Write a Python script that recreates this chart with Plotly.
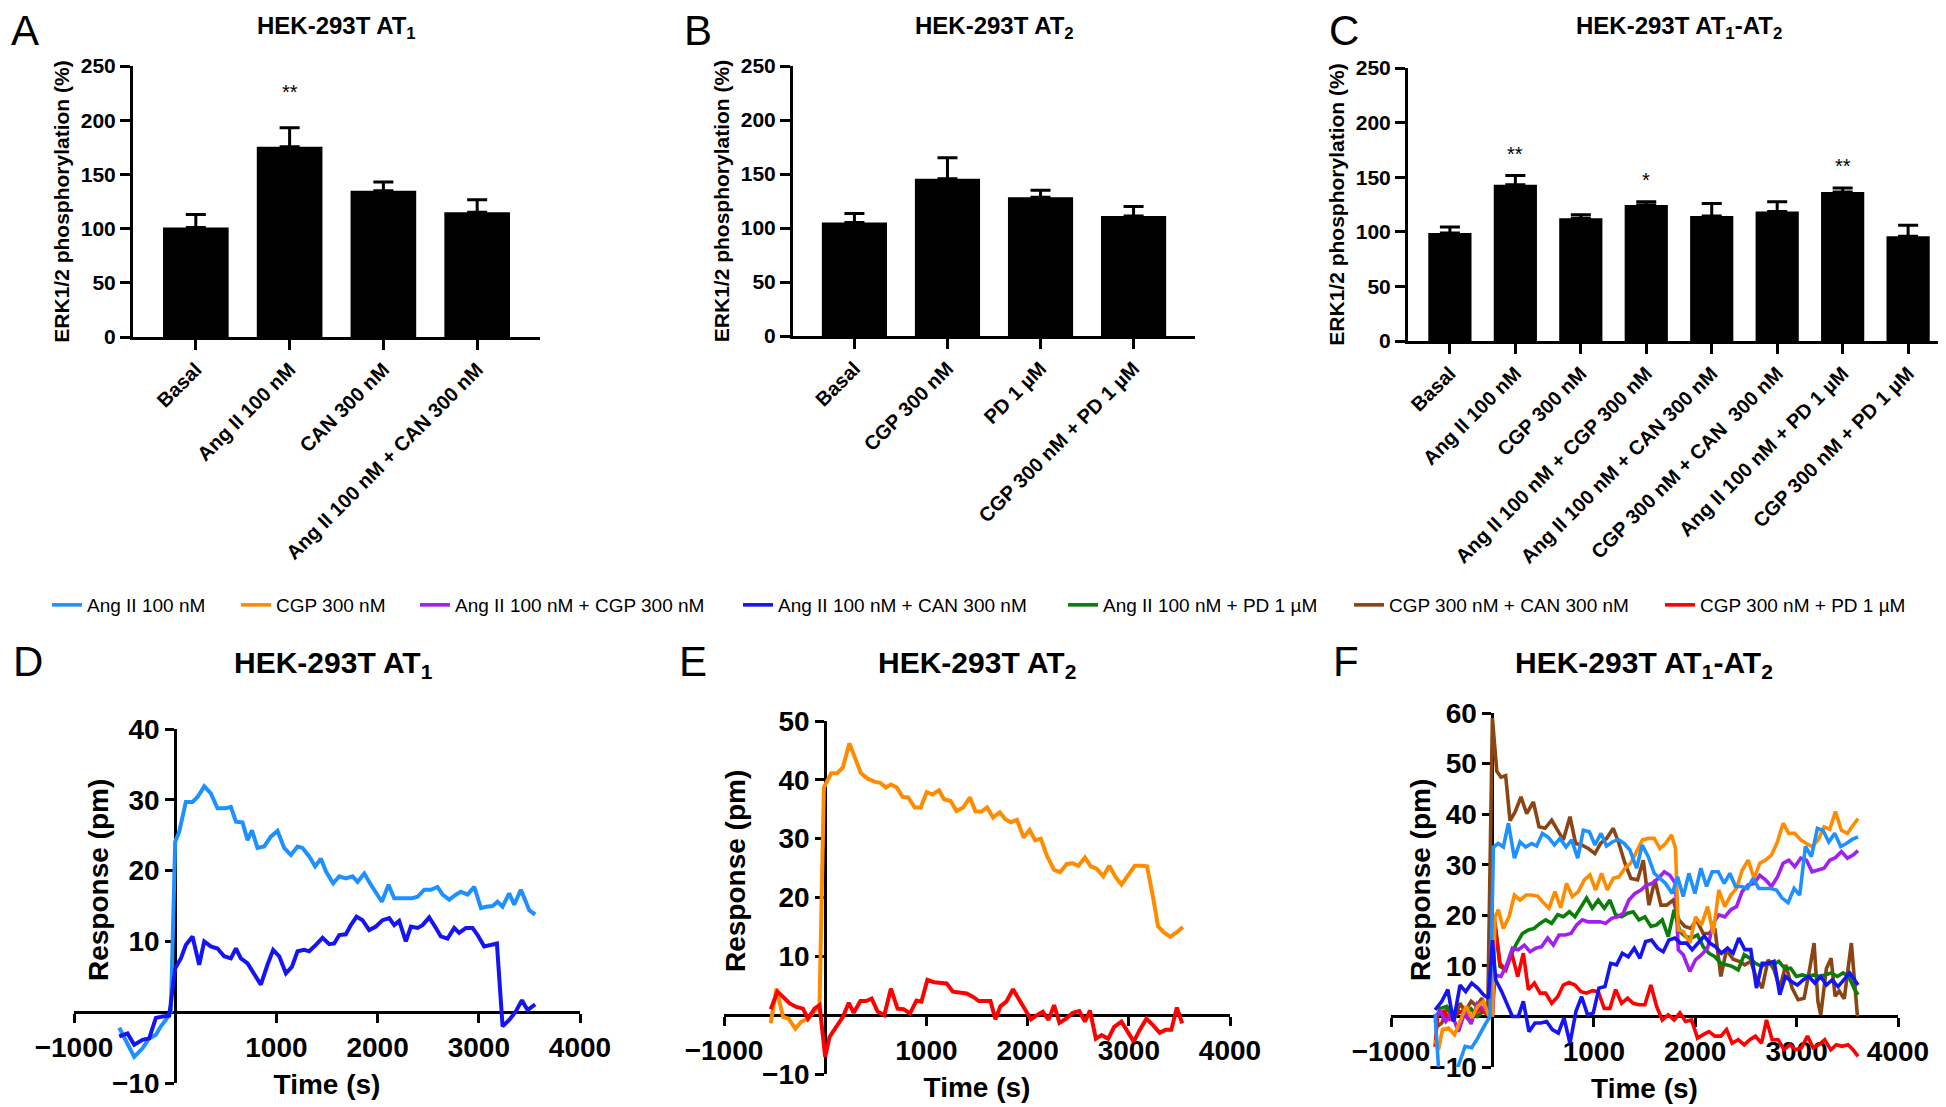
import plotly.graph_objects as go

FONT = "Liberation Sans, Arial, Helvetica, sans-serif"
W, H = 1946, 1107

# ---------------- data: ERK1/2 bar panels ----------------
cats_A = ["Basal", "Ang II 100 nM", "CAN 300 nM", "Ang II 100 nM + CAN 300 nM"]
mean_A = [101, 175.5, 135, 115]
sem_A = [12, 17.5, 8, 11.5]
stars_A = ["", "**", "", ""]

cats_B = ["Basal", "CGP 300 nM", "PD 1 µM", "CGP 300 nM + PD 1 µM"]
mean_B = [105, 145.5, 128.5, 111]
sem_B = [8.5, 19.5, 6.5, 9]
stars_B = ["", "", "", ""]

cats_C = ["Basal", "Ang II 100 nM", "CGP 300 nM", "Ang II 100 nM + CGP 300 nM",
          "Ang II 100 nM + CAN 300 nM", "CGP 300 nM + CAN  300 nM",
          "Ang II 100 nM + PD 1 µM", "CGP 300 nM + PD 1 µM"]
mean_C = [99, 143, 112.5, 124.5, 114.5, 118.5, 136.5, 96]
sem_C = [5.5, 8.5, 3, 3, 11.5, 9, 3.5, 10]
stars_C = ["", "**", "", "*", "", "", "**", ""]

# ---------------- data: DMR time courses (time s, response pm) ----------------
D_angII = [(-553,-2.2),(-405,-6.3),(-323,-5.1),(-257,-3.7),(-191,-3.2),(-142,-2.0),(-92,-1.1),(-43,0.1),(0,24.1),(40,25.5),(105,29.7),(171,29.7),(221,30.4),(287,31.9),(352,30.9),(418,28.8),(500,28.8),(550,29.0),(600,26.9),(665,26.8),(715,24.3),(758,25.7),(813,23.2),(879,23.4),(945,24.8),(1011,25.6),(1077,23.2),(1143,22.2),(1209,23.4),(1258,23.2),(1324,22.0),(1383,20.6),(1439,21.7),(1489,19.9),(1561,18.2),(1621,19.2),(1686,18.9),(1752,19.2),(1802,18.4),(1868,19.6),(1934,18.0),(1983,16.8),(2042,15.6),(2108,18.0),(2164,16.1),(2246,16.1),(2345,16.1),(2395,16.3),(2461,17.3),(2526,17.3),(2592,17.7),(2642,16.6),(2708,15.9),(2773,16.6),(2823,17.0),(2889,16.6),(2955,17.7),(3021,14.7),(3070,14.9),(3136,15.0),(3185,15.6),(3235,14.9),(3300,16.8),(3350,15.2),(3416,17.3),(3465,15.6),(3498,14.4),(3557,13.8)]
D_angII_CAN = [(-553,-3.4),(-471,-3.0),(-405,-4.6),(-323,-3.9),(-257,-3.7),(-191,-0.8),(-125,-0.6),(-59,-0.5),(0,6.2),(56,7.6),(105,9.5),(171,10.7),(237,6.7),(287,10.0),(352,9.3),(418,9.0),(484,7.9),(550,7.6),(600,9.0),(649,7.6),(715,6.9),(781,5.3),(846,3.9),(912,6.7),(968,8.8),(1028,7.9),(1094,5.5),(1153,6.4),(1209,8.6),(1275,8.8),(1324,8.6),(1390,9.5),(1456,10.5),(1522,9.6),(1571,9.7),(1621,10.9),(1686,11.0),(1736,12.3),(1792,13.5),(1851,13.0),(1917,11.6),(1983,12.1),(2049,13.0),(2115,13.3),(2164,12.3),(2213,12.9),(2279,10.0),(2329,12.1),(2395,11.9),(2444,12.3),(2510,13.4),(2576,11.9),(2625,10.7),(2691,10.4),(2757,11.9),(2806,11.2),(2872,11.9),(2938,11.9),(2988,10.9),(3053,9.3),(3119,9.5),(3179,9.7),(3235,-2.0),(3300,-1.1),(3366,0.1),(3426,1.7),(3482,0.3),(3557,1.1)]

E_CGP = [(-538,-1.4),(-482,4.5),(-416,-0.3),(-361,-0.6),(-295,-2.3),(-236,-1.1),(-170,-0.6),(-105,0.8),(-56,1.7),(-13,38.7),(59,41.1),(118,41.1),(174,42.1),(239,46.2),(295,43.8),(354,41.1),(420,40.2),(485,39.7),(544,39.5),(600,38.7),(649,39.2),(708,38.7),(764,37.1),(820,37.0),(885,35.3),(944,35.3),(1003,37.9),(1059,37.5),(1125,38.2),(1174,36.7),(1239,36.4),(1298,34.7),(1364,35.3),(1430,37.0),(1485,34.6),(1544,34.6),(1600,35.3),(1659,33.6),(1725,34.5),(1780,33.3),(1836,32.8),(1895,33.2),(1961,30.2),(2020,31.5),(2075,29.7),(2131,30.0),(2190,27.1),(2262,24.7),(2321,24.3),(2387,25.7),(2446,25.8),(2502,25.4),(2567,26.8),(2623,25.3),(2682,24.9),(2748,23.6),(2807,25.4),(2872,23.4),(2928,22.2),(2993,23.7),(3059,25.4),(3125,25.4),(3180,25.3),(3239,20.1),(3289,15.1),(3344,14.1),(3410,13.3),(3475,14.1),(3534,15.0)]
E_CGP_PD = [(-538,1.0),(-472,4.0),(-416,3.1),(-351,2.0),(-285,1.4),(-220,1.1),(-170,-0.6),(-105,1.1),(-56,1.7),(0,-7.1),(43,-3.7),(108,-2.0),(174,-0.3),(233,2.1),(282,0.4),(348,2.4),(403,2.4),(459,2.8),(518,0.6),(584,0.0),(649,4.5),(715,1.1),(774,1.0),(839,0.3),(902,2.5),(951,2.3),(1010,6.0),(1075,5.6),(1141,5.5),(1200,5.4),(1262,4.0),(1331,3.8),(1397,3.7),(1462,3.1),(1518,2.4),(1584,2.4),(1633,2.4),(1682,-0.7),(1731,1.5),(1790,2.3),(1856,4.4),(1911,2.8),(1967,1.1),(2033,-0.7),(2092,0.0),(2151,0.6),(2207,-0.8),(2262,1.7),(2315,-1.3),(2380,-0.6),(2446,0.4),(2511,0.7),(2567,-1.1),(2616,0.8),(2675,-4.0),(2731,-3.4),(2797,-4.0),(2856,-2.0),(2928,-1.1),(2984,-2.8),(3049,-4.5),(3108,-2.5),(3174,-0.6),(3239,-1.7),(3305,-3.0),(3364,-2.5),(3420,-2.5),(3475,1.3),(3528,-1.4)]

F_CGP_CAN = [(-565,-2.3),(-499,-1.3),(-440,2.0),(-384,-1.0),(-319,2.6),(-269,1.0),(-210,3.0),(-154,2.0),(-105,3.6),(-46,1.0),(0,59.0),(43,48.5),(85,47.3),(131,47.6),(174,38.7),(223,40.4),(282,43.4),(338,40.1),(404,42.4),(460,37.5),(519,37.2),(585,38.8),(644,36.8),(699,34.9),(765,39.5),(821,34.2),(880,33.9),(946,33.2),(1011,32.2),(1067,34.2),(1126,35.2),(1192,37.2),(1248,34.2),(1307,30.3),(1366,27.3),(1432,27.0),(1488,30.9),(1544,22.0),(1603,27.0),(1662,22.0),(1718,22.0),(1783,23.0),(1839,19.1),(1898,17.8),(1957,17.4),(2013,19.1),(2079,16.4),(2135,16.4),(2194,17.4),(2253,7.9),(2309,13.2),(2374,11.3),(2433,10.9),(2489,10.2),(2548,10.9),(2604,7.6),(2660,5.6),(2719,11.2),(2778,9.2),(2834,5.6),(2893,10.2),(2956,5.6),(3015,3.3),(3074,3.6),(3130,9.5),(3172,14.5),(3210,3.0),(3238,0.3),(3294,9.5),(3340,11.5),(3380,4.0),(3420,5.0),(3470,3.5),(3540,14.5),(3600,0.0)]
F_angII = [(-565,0.5),(-532,-10.0),(-480,-13.0),(-430,-12.0),(-384,-11.0),(-335,-9.7),(-269,-5.9),(-204,-6.2),(-145,-4.3),(-72,-1.6),(-23,0.0),(10,33.5),(59,34.2),(108,33.5),(158,38.2),(217,31.3),(273,34.5),(328,33.5),(388,34.2),(437,33.7),(493,36.2),(552,35.4),(611,33.9),(667,35.2),(726,33.5),(782,34.9),(841,31.3),(897,36.8),(956,36.5),(1011,33.9),(1071,36.2),(1126,33.7),(1182,34.5),(1241,35.0),(1300,34.2),(1356,32.9),(1422,29.3),(1478,33.9),(1537,31.6),(1596,28.3),(1652,27.3),(1708,26.3),(1773,24.3),(1826,27.6),(1882,23.7),(1938,28.3),(1997,24.3),(2056,29.3),(2112,25.7),(2167,28.6),(2227,28.6),(2286,26.3),(2342,28.3),(2397,25.7),(2456,25.7),(2516,25.3),(2571,27.3),(2627,25.3),(2686,25.3),(2745,25.3),(2801,25.0),(2857,23.4),(2916,22.5),(2975,25.3),(3031,24.0),(3087,33.6),(3146,31.6),(3205,37.2),(3261,36.8),(3317,34.5),(3376,36.2),(3435,33.6),(3491,34.2),(3547,35.0),(3606,35.5)]
F_CGP = [(-565,-4.6),(-532,-6.6),(-493,-2.6),(-434,-2.3),(-374,-3.6),(-319,-0.7),(-259,2.0),(-204,-0.3),(-145,2.0),(-89,3.0),(-39,0.3),(0,0.3),(26,19.7),(59,21.1),(108,17.4),(164,19.7),(217,24.0),(273,23.0),(332,24.0),(388,24.0),(447,23.8),(502,22.5),(558,21.4),(617,24.7),(673,21.5),(732,26.3),(788,23.7),(847,24.7),(906,27.0),(962,28.0),(1018,25.0),(1077,28.3),(1133,25.0),(1192,27.3),(1248,27.6),(1307,29.3),(1363,30.3),(1422,32.6),(1478,34.9),(1537,35.2),(1596,35.2),(1652,33.2),(1708,34.2),(1767,35.9),(1806,33.2),(1833,17.1),(1882,16.8),(1947,14.5),(2003,19.7),(2062,18.1),(2122,21.7),(2177,16.4),(2233,25.0),(2292,21.7),(2351,24.0),(2407,25.3),(2463,28.9),(2522,30.9),(2581,27.3),(2637,30.3),(2693,30.9),(2752,31.9),(2811,34.5),(2867,38.2),(2923,36.2),(2982,36.2),(3041,34.9),(3097,34.2),(3153,33.6),(3212,34.9),(3271,37.5),(3327,37.0),(3383,40.5),(3442,36.8),(3501,36.2),(3557,37.8),(3606,39.1)]
F_angII_PD = [(-565,-1.3),(-516,1.6),(-450,2.0),(-390,-0.5),(-330,1.0),(-270,0.5),(-210,1.5),(-150,0.0),(-90,1.0),(-30,0.5),(0,0.3),(26,18.4),(75,9.9),(131,9.2),(184,12.2),(240,14.5),(296,16.4),(355,17.1),(411,17.4),(470,18.4),(525,19.1),(585,18.4),(644,20.1),(699,19.7),(759,20.7),(814,19.7),(874,21.7),(929,23.4),(985,21.4),(1044,23.0),(1103,21.4),(1159,23.0),(1215,20.1),(1274,19.7),(1333,20.4),(1389,20.7),(1445,19.1),(1504,19.7),(1563,17.8),(1619,18.1),(1675,19.1),(1734,15.8),(1793,21.1),(1849,16.8),(1905,15.8),(1964,15.5),(2023,16.1),(2079,13.8),(2135,12.5),(2194,11.8),(2253,10.5),(2309,10.2),(2364,9.9),(2424,9.2),(2483,12.2),(2539,11.5),(2594,10.5),(2654,9.9),(2713,10.5),(2769,10.2),(2824,10.9),(2883,9.5),(2943,9.5),(2998,7.9),(3054,8.2),(3113,7.9),(3172,8.2),(3228,7.9),(3284,8.2),(3343,8.6),(3402,7.9),(3458,8.6),(3514,7.9),(3573,5.3),(3606,4.3)]
F_angII_CGP = [(-565,0.0),(-516,1.0),(-460,-1.0),(-400,0.5),(-335,-3.0),(-270,1.0),(-210,-1.5),(-150,2.5),(-90,1.5),(-40,1.0),(0,0.5),(26,8.2),(85,7.9),(141,10.2),(197,13.5),(256,13.2),(315,14.1),(371,12.8),(427,13.5),(486,13.8),(545,15.5),(601,14.1),(657,16.1),(716,16.1),(775,16.4),(831,18.1),(887,19.1),(946,18.7),(1005,18.7),(1061,18.7),(1117,18.4),(1176,19.4),(1235,19.7),(1291,20.4),(1346,23.0),(1406,24.3),(1465,25.0),(1521,26.0),(1576,26.3),(1635,27.3),(1695,28.6),(1750,27.9),(1806,26.3),(1833,13.2),(1882,12.2),(1947,8.9),(2003,11.2),(2062,12.2),(2122,13.5),(2177,18.4),(2233,20.1),(2292,19.7),(2351,21.1),(2407,21.7),(2463,24.7),(2522,26.0),(2581,26.3),(2637,27.9),(2693,27.0),(2752,25.7),(2811,27.6),(2867,30.3),(2923,30.9),(2982,29.6),(3041,31.3),(3097,30.9),(3153,28.6),(3212,28.9),(3271,29.3),(3327,30.9),(3383,31.4),(3442,32.6),(3501,31.3),(3557,31.9),(3606,32.8)]
F_angII_CAN = [(-565,1.3),(-499,3.0),(-440,5.3),(-384,-1.0),(-319,6.2),(-263,4.9),(-204,6.6),(-145,5.6),(-89,4.3),(-39,3.6),(0,15.1),(33,7.2),(92,4.9),(151,2.3),(197,0.0),(256,0.0),(305,3.0),(361,-3.0),(420,-1.3),(479,-1.3),(535,-1.0),(591,-2.6),(650,-3.3),(706,-0.3),(765,-5.3),(824,1.0),(880,3.9),(939,0.3),(995,0.7),(1051,5.6),(1110,5.9),(1166,10.5),(1225,10.2),(1281,12.5),(1340,11.8),(1399,13.5),(1455,11.5),(1511,14.8),(1570,15.1),(1629,13.5),(1685,12.8),(1741,15.1),(1800,15.5),(1856,14.5),(1915,14.5),(1970,13.2),(2030,14.5),(2089,15.9),(2144,14.5),(2200,13.8),(2259,12.5),(2319,13.5),(2374,12.5),(2430,15.5),(2489,13.2),(2548,13.2),(2604,5.6),(2660,10.5),(2719,10.5),(2778,10.9),(2834,4.3),(2890,7.9),(2949,6.9),(3008,6.2),(3064,7.2),(3120,7.9),(3179,6.6),(3238,7.9),(3294,6.2),(3350,7.2),(3409,5.9),(3468,7.2),(3524,8.6),(3606,6.2)]
F_CGP_PD = [(-565,-6.0),(-540,0.3),(-480,1.0),(-420,-0.5),(-360,0.5),(-300,1.0),(-240,-0.5),(-180,0.5),(-120,1.5),(-60,0.5),(0,0.3),(20,19.1),(75,10.5),(131,9.2),(190,12.5),(250,7.9),(305,12.5),(355,5.3),(414,6.6),(470,4.6),(525,4.6),(585,2.6),(644,3.9),(699,6.2),(755,6.7),(814,6.2),(874,4.9),(929,4.6),(985,5.1),(1044,4.9),(1103,1.6),(1159,1.6),(1215,5.3),(1274,2.6),(1333,3.6),(1389,2.6),(1445,2.3),(1504,2.3),(1563,6.2),(1619,2.0),(1675,-0.7),(1734,0.3),(1793,-0.7),(1849,0.7),(1905,-1.0),(1964,-0.7),(2023,-4.3),(2079,-3.6),(2135,-3.0),(2194,-3.9),(2253,-3.9),(2309,-2.6),(2364,-5.3),(2424,-4.6),(2483,-5.6),(2539,-4.6),(2594,-3.9),(2654,-5.3),(2703,-0.7),(2759,-4.6),(2818,-4.6),(2877,-6.6),(2933,-5.6),(2989,-6.6),(3048,-6.2),(3107,-3.9),(3163,-6.2),(3218,-5.6),(3277,-4.6),(3337,-6.6),(3392,-5.6),(3448,-5.9),(3507,-5.6),(3557,-6.6),(3606,-7.9)]

series_names = ["Ang II 100 nM", "CGP 300 nM", "Ang II 100 nM + CGP 300 nM",
                "Ang II 100 nM + CAN 300 nM", "Ang II 100 nM + PD 1 µM",
                "CGP 300 nM + CAN 300 nM", "CGP 300 nM + PD 1 µM"]
series_colors = ["#1E90FF", "#FF8C00", "#A020F0", "#1414F5", "#0A7D0A", "#8B4513", "#FF0000"]

# ---------------- helpers ----------------
def fx(px):
    return px / W

def fy(py):
    return 1 - py / H

fig = go.Figure()
layout = {}
annotations = []

# ---------------- top bar panels ----------------
top_panels = [
    dict(cats=cats_A, mean=mean_A, sem=sem_A, stars=stars_A, n="", xpx=(125, 532), ypx=(58, 329),
         rng=(-0.67, 3.67), bw=0.70, title="HEK-293T AT<sub>1</sub>", tx=328, letter="A", lx=17, sshift=23),
    dict(cats=cats_B, mean=mean_B, sem=sem_B, stars=stars_B, n="2", xpx=(785, 1187), ypx=(58, 328),
         rng=(-0.66, 3.66), bw=0.70, title="HEK-293T AT<sub>2</sub>", tx=986, letter="B", lx=690, sshift=23),
    dict(cats=cats_C, mean=mean_C, sem=sem_C, stars=stars_C, n="3", xpx=(1400, 1942), ypx=(60, 333),
         rng=(-0.64, 7.64), bw=0.66, title="HEK-293T AT<sub>1</sub>-AT<sub>2</sub>", tx=1671, letter="C", lx=1336, sshift=9),
]

for p in top_panels:
    n = p["n"]
    fig.add_trace(go.Bar(
        x=p["cats"], y=p["mean"], width=p["bw"],
        marker=dict(color="black", line=dict(width=0)),
        error_y=dict(type="data", array=p["sem"], arrayminus=[0] * len(p["cats"]), symmetric=False,
                     color="black", thickness=3, width=10),
        xaxis="x" + n, yaxis="y" + n, showlegend=False, hoverinfo="skip"))
    layout["xaxis" + n] = dict(
        domain=[fx(p["xpx"][0]), fx(p["xpx"][1])], anchor="y" + n, range=list(p["rng"]),
        type="category", tickangle=-45, ticks="outside", ticklen=10, tickwidth=3, tickcolor="black",
        showline=True, linewidth=3, linecolor="black", showgrid=False, zeroline=False,
        tickfont=dict(family=FONT, size=20, color="black", weight="bold"), automargin=False)
    layout["yaxis" + n] = dict(
        domain=[fy(p["ypx"][1]), fy(p["ypx"][0])], anchor="x" + n, range=[0, 250],
        tickvals=[0, 50, 100, 150, 200, 250], ticks="outside", ticklen=10, tickwidth=3, tickcolor="black",
        showline=True, linewidth=3, linecolor="black", showgrid=False, zeroline=False,
        tickfont=dict(family=FONT, size=21, color="black", weight="bold"), automargin=False,
        title=dict(text="ERK1/2 phosphorylation (%)", standoff=6,
                   font=dict(family=FONT, size=21, color="black", weight="bold")))
    for c, m, s, st in zip(p["cats"], p["mean"], p["sem"], p["stars"]):
        if st:
            annotations.append(dict(x=c, y=m + s, xref="x" + n, yref="y" + n, text=st, showarrow=False,
                                    yanchor="bottom", yshift=p["sshift"],
                                    font=dict(family=FONT, size=20, color="black")))
    annotations.append(dict(x=fx(p["tx"]), y=fy(19), xref="paper", yref="paper", text=p["title"],
                            showarrow=False, xanchor="center", yanchor="middle",
                            font=dict(family=FONT, size=24, color="black", weight="bold")))
    annotations.append(dict(x=fx(p["lx"]), y=fy(22), xref="paper", yref="paper", text=p["letter"],
                            showarrow=False, xanchor="center", yanchor="middle",
                            font=dict(family=FONT, size=42, color="black")))

# ---------------- bottom time-course panels ----------------
bottom_panels = [
    dict(n="4", xpx=(66, 572), ypx=(721, 1075), yr=(-10, 40), title="HEK-293T AT<sub>1</sub>", tx=325,
         letter="D", lx=20, ytx=90, yty=872,
         traces=[(D_angII, 0), (D_angII_CAN, 3)], lw=4),
    dict(n="5", xpx=(716, 1222), ypx=(713, 1066), yr=(-10, 50), title="HEK-293T AT<sub>2</sub>", tx=969,
         letter="E", lx=685, ytx=727, yty=863,
         traces=[(E_CGP, 1), (E_CGP_PD, 6)], lw=4),
    dict(n="6", xpx=(1383, 1890), ypx=(705, 1059), yr=(-10, 60), title="HEK-293T AT<sub>1</sub>-AT<sub>2</sub>",
         tx=1636, letter="F", lx=1338, ytx=1412, yty=872,
         traces=[(F_CGP_CAN, 5), (F_angII_PD, 4), (F_CGP_PD, 6), (F_angII_CGP, 2), (F_CGP, 1),
                 (F_angII, 0), (F_angII_CAN, 3)], lw=3.6),
]
xr = (-1000, 4000)

for p in bottom_panels:
    n = p["n"]
    for data, ci in p["traces"]:
        t = [d[0] for d in data]
        v = [d[1] for d in data]
        is_legend = n == "6"
        leg = "legend" if ci == 0 else "legend%d" % (ci + 1)
        fig.add_trace(go.Scatter(
            x=t, y=v, mode="lines", line=dict(color=series_colors[ci], width=p["lw"]),
            name=series_names[ci], xaxis="x" + n, yaxis="y" + n,
            showlegend=is_legend, legend=leg, hoverinfo="skip"))
    xd = [fx(p["xpx"][0]), fx(p["xpx"][1])]
    yd = [fy(p["ypx"][1]), fy(p["ypx"][0])]
    yr = p["yr"]
    xpos = yd[0] + (0 - yr[0]) / (yr[1] - yr[0]) * (yd[1] - yd[0])
    ypos = xd[0] + (0 - xr[0]) / (xr[1] - xr[0]) * (xd[1] - xd[0])
    yticks = [v for v in range(yr[0], yr[1] + 1, 10) if v != 0]
    layout["xaxis" + n] = dict(
        domain=xd, range=list(xr), anchor="free", position=xpos,
        tickvals=[-1000, 1000, 2000, 3000, 4000], ticks="outside", ticklen=9, tickwidth=3,
        tickcolor="black", showline=True, linewidth=3, linecolor="black", showgrid=False,
        zeroline=False, layer="below traces", automargin=False,
        tickfont=dict(family=FONT, size=28, color="black", weight="bold"),
        title=dict(text="Time (s)", standoff=12, font=dict(family=FONT, size=28, color="black", weight="bold")))
    layout["yaxis" + n] = dict(
        domain=yd, range=list(yr), anchor="free", position=ypos,
        tickvals=yticks, ticks="outside", ticklen=9, tickwidth=3, tickcolor="black",
        showline=True, linewidth=3, linecolor="black", showgrid=False, zeroline=False,
        layer="below traces", automargin=False,
        tickfont=dict(family=FONT, size=28, color="black", weight="bold"))
    annotations.append(dict(x=fx(p["ytx"]), y=fy(p["yty"]), xref="paper", yref="paper",
                            text="Response (pm)", textangle=-90, showarrow=False,
                            xanchor="center", yanchor="middle",
                            font=dict(family=FONT, size=28, color="black", weight="bold")))
    annotations.append(dict(x=fx(p["tx"]), y=fy(656), xref="paper", yref="paper", text=p["title"],
                            showarrow=False, xanchor="center", yanchor="middle",
                            font=dict(family=FONT, size=30, color="black", weight="bold")))
    annotations.append(dict(x=fx(p["lx"]), y=fy(653), xref="paper", yref="paper", text=p["letter"],
                            showarrow=False, xanchor="center", yanchor="middle",
                            font=dict(family=FONT, size=42, color="black")))

# ---------------- legends (one per series, laid out in a row) ----------------
legend_text_x = [81, 270, 449, 772, 1097, 1383, 1694]
for i, tx in enumerate(legend_text_x):
    key = "legend" if i == 0 else "legend%d" % (i + 1)
    layout[key] = dict(x=fx(tx - 42), y=fy(597), xanchor="left", yanchor="middle",
                       orientation="h", bgcolor="rgba(0,0,0,0)", borderwidth=0,
                       font=dict(family=FONT, size=19, color="black"), itemwidth=30)

fig.update_layout(
    width=W, height=H, margin=dict(l=0, r=0, t=0, b=0),
    paper_bgcolor="white", plot_bgcolor="rgba(0,0,0,0)",
    font=dict(family=FONT, color="black"),
    annotations=annotations, bargap=0.3, **layout)

fig.write_html("out.html")
